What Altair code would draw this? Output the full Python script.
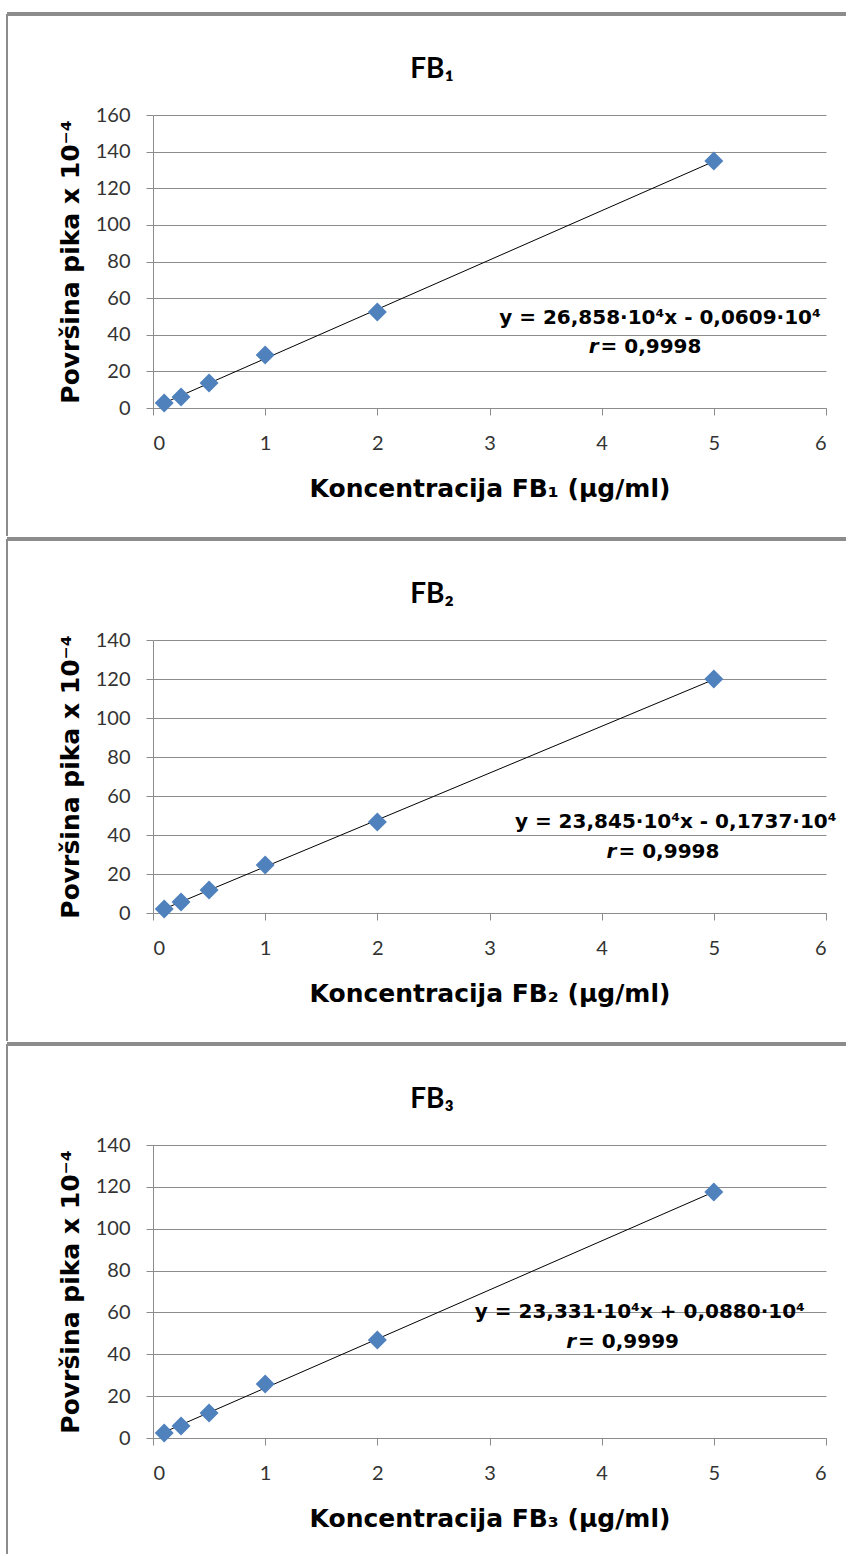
import altair as alt
import pandas as pd

# ---- data ----
conc = [0.1, 0.25, 0.5, 1, 2, 5]
fb1 = [2.7, 6.0, 13.7, 28.9, 52.4, 134.9]
fb2 = [2.1, 5.6, 11.8, 24.6, 46.7, 120.0]
fb3 = [2.4, 5.7, 11.9, 25.8, 46.8, 117.5]
series = [fb1, fb2, fb3]

titles = ["FB₁", "FB₂", "FB₃"]
x_titles = ["Koncentracija FB₁ (µg/ml)", "Koncentracija FB₂ (µg/ml)", "Koncentracija FB₃ (µg/ml)"]
y_title = "Površina pika x 10⁻⁴"
y_max = [160, 140, 140]
x_ticks = [0, 1, 2, 3, 4, 5, 6]

equations = ["y = 26,858·10⁴x - 0,0609·10⁴",
             "y = 23,845·10⁴x - 0,1737·10⁴",
             "y = 23,331·10⁴x + 0,0880·10⁴"]
r_values = ["= 0,9998", "= 0,9998", "= 0,9999"]
eq_x = [4.52, 4.66, 4.34]
eq_y = [49.1, 46.7, 60.2]
r_x = [4.40, 4.56, 4.20]
r_y = [33.3, 31.3, 45.9]

# ---- layout ----
W = 673
heights = [293, 273, 293]
TOP = 101
BOTTOMS = [128, 128, 116]
FRAME = "#8c8c8c"
BLUE = "#4F81BD"


def panel(i):
    h = heights[i]
    df = pd.DataFrame({"c": conc, "a": series[i]})
    X = alt.X("c:Q", scale=alt.Scale(domain=[0, 6], nice=False),
              axis=alt.Axis(values=x_ticks, title=x_titles[i], grid=False,
                            labelPadding=18, titleY=88, titleBaseline="alphabetic",
                            format="d"))
    Y = alt.Y("a:Q", scale=alt.Scale(domain=[0, y_max[i]], nice=False),
              axis=alt.Axis(values=list(range(0, y_max[i] + 1, 20)), title=y_title,
                            grid=True, labelPadding=16, titleX=-75, titleY=h / 2,
                            titleAngle=270, titleBaseline="alphabetic", titleAlign="center",
                            format="d"))
    one = pd.DataFrame({"k": [0]})
    frame_top = alt.Chart(one).mark_rule(color=FRAME, strokeWidth=4).encode(
        x=alt.value(-146), x2=alt.value(W + 20), y=alt.value(-TOP))
    frame_left = alt.Chart(one).mark_rule(color=FRAME, strokeWidth=2).encode(
        x=alt.value(-146), y=alt.value(-TOP), y2=alt.value(h + BOTTOMS[i]))
    title = alt.Chart(pd.DataFrame({"t": [titles[i]]})).mark_text(
        font="Lato", fontWeight="bold", fontSize=28, color="#000", baseline="alphabetic"
    ).encode(text="t:N", x=alt.value(279), y=alt.value(-37))

    base = alt.Chart(df)
    pts = base.mark_point(shape="diamond", filled=True, size=360, color=BLUE,
                          opacity=1).encode(x=X, y=Y)
    line = base.transform_regression("c", "a").mark_line(
        color="#000", strokeWidth=1).encode(x=X, y=Y)

    eq_df = pd.DataFrame({"c": [eq_x[i]], "a": [eq_y[i]], "t": [equations[i]]})
    eq = alt.Chart(eq_df).mark_text(font="DejaVu Sans", fontWeight="bold", fontSize=20,
                                    color="#000", baseline="middle", align="center").encode(
        x=X, y=Y, text="t:N")
    r_df = pd.DataFrame({"c": [r_x[i]], "a": [r_y[i]], "t": ["r"], "v": [r_values[i]]})
    r_it = alt.Chart(r_df).mark_text(font="DejaVu Sans", fontWeight="bold", fontStyle="italic",
                                     fontSize=20, color="#000", baseline="middle",
                                     align="right", dx=-48).encode(x=X, y=Y, text="t:N")
    r_rest = alt.Chart(r_df).mark_text(font="DejaVu Sans", fontWeight="bold", fontSize=20,
                                       color="#000", baseline="middle",
                                       align="left", dx=-46).encode(x=X, y=Y, text="v:N")
    return alt.layer(frame_top, frame_left, line, pts, eq, r_it, r_rest, title).properties(
        width=W, height=h)


chart = alt.vconcat(*[panel(i) for i in range(3)], spacing=0).properties(
    padding={"left": 5, "top": 12, "right": 0, "bottom": 0}, background="white"
).configure_view(stroke=None).configure_axis(
    domainColor=FRAME, gridColor=FRAME, tickColor=FRAME, tickSize=7,
    labelFont="Lato", labelFontSize=20, labelColor="#333333",
    titleFont="DejaVu Sans", titleFontWeight="bold", titleFontSize=25, titleColor="#000000"
)

chart.save("out.html", embed_options={"renderer": "svg", "actions": False})
